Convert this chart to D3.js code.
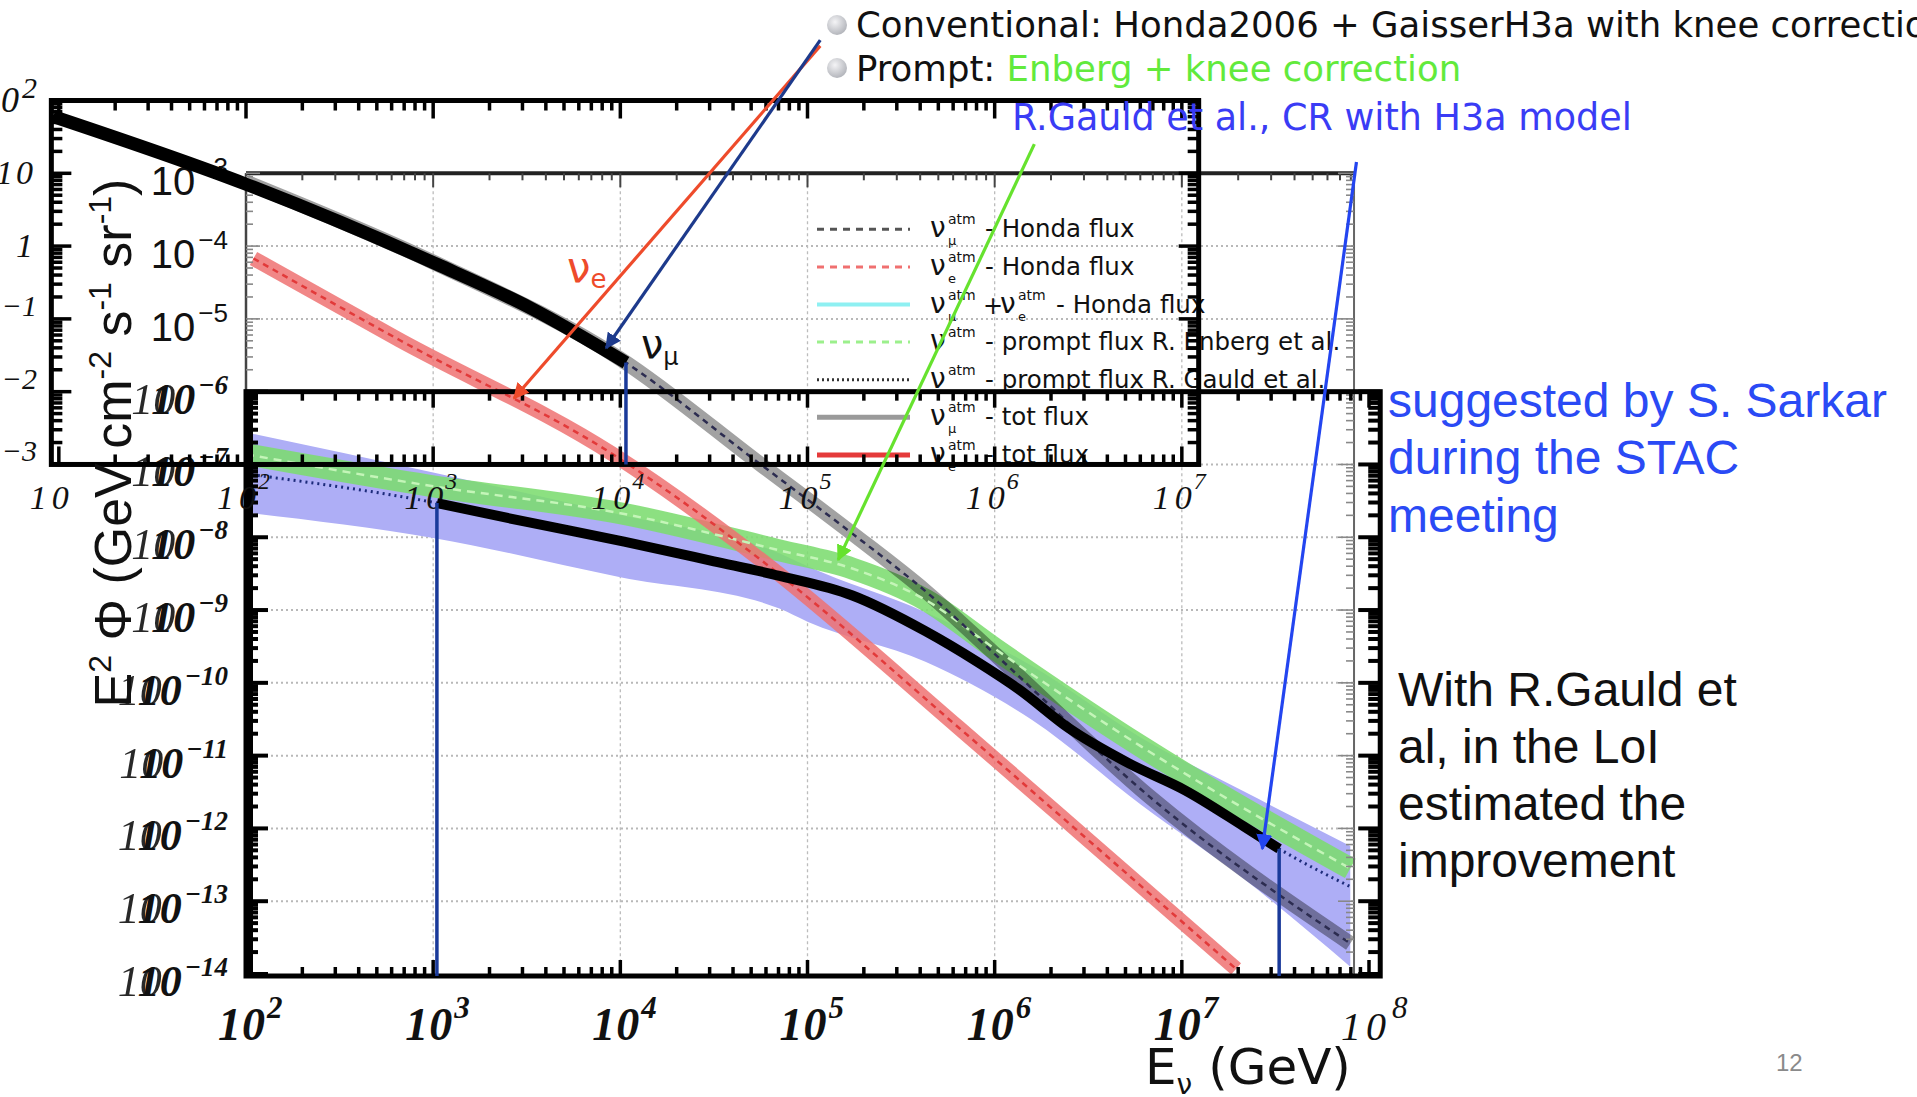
<!DOCTYPE html>
<html>
<head>
<meta charset="utf-8">
<script src="https://cdn.jsdelivr.net/npm/d3@7/dist/d3.min.js"></script>
<style>
  body { margin: 0; background: #fff; overflow: hidden; }
  svg { display: block; }
</style>
</head>
<body>
<div id="slide"></div>
<script>
// values: log10(E / GeV) and log10(E^2 Phi)

// R. Gauld et al. prompt flux (dotted everywhere, thick black between the two blue markers)
const gauldLogE   = [2.0, 3.02, 3.5, 4.02, 4.5, 4.85, 5.24, 5.63, 5.9, 6.13, 6.4, 6.72, 7.02, 7.33, 7.52, 7.9];
const gauldLogPhi = [-7.13, -7.53, -7.79, -8.06, -8.33, -8.53, -8.8, -9.29, -9.7, -10.09, -10.63, -11.11, -11.48, -11.97, -12.28, -12.8];
const gauldThick  = [3.0, 7.53];

// Gauld uncertainty band (centre, half width in decades)
const bandLogE = [2.0, 3.0, 4.0, 4.85, 5.0, 5.63, 6.2, 6.78, 7.33, 7.9];
const bandMid  = [-7.11, -7.56, -8.12, -8.6, -8.78, -9.37, -10.14, -11.21, -12.09, -13.07];
const bandHalf = [0.55, 0.45, 0.43, 0.38, 0.38, 0.34, 0.37, 0.46, 0.6, 0.83];

// Enberg prompt flux (green band)
const enbergLogE   = [2.0, 3.0, 4.0, 4.85, 5.24, 5.63, 6.0, 6.78, 7.9];
const enbergLogPhi = [-6.86, -7.3, -7.67, -8.18, -8.43, -8.86, -9.53, -10.87, -12.55];

// numu total flux (grey band)
const numuLogE   = [2.0, 3.0, 4.0, 4.75, 5.24, 5.63, 6.02, 6.83, 7.9];
const numuLogPhi = [-3.12, -4.22, -5.55, -7.0, -7.95, -8.74, -9.65, -11.57, -13.58];

// nue total flux (red band)
const nueLogE   = [2.04, 2.82, 3.96, 4.78, 5.81, 6.5, 7.29];
const nueLogPhi = [-4.17, -5.29, -6.86, -8.37, -10.62, -12.16, -13.93];

// older plot pasted over the top left corner (own y axis)
const oldLogE = [0.97, 2.0, 3.02, 3.52, 4.03];
const oldLogY = [1.78, 0.85, -0.25, -0.85, -1.6];

// tick labels
const xDecades    = [2, 3, 4, 5, 6, 7, 8];
const yDecades    = [-3, -4, -5, -6, -7, -8, -9, -10, -11, -12, -13, -14];
const oldXDecades = [1, 2, 3, 4, 5, 6, 7];
const oldYDecades = [2, 1, 0, -1, -2, -3];

// legend
const legendFlavour = ["μ", "e", "μ+e", "", "", "μ", "e"];
const legendText = ["- Honda flux", "- Honda flux", "- Honda flux", "- prompt flux R. Enberg et al.",
  "- prompt flux R. Gauld et al.", "- tot flux", "- tot flux"];

// annotation arrows, in plot coordinates (log10 E, log10 flux)
const arrowFromE   = [5.068, 5.068, 6.212, 7.933];
const arrowFromPhi = [-1.25, -1.17, -2.6, -2.845];
const arrowToE     = [3.432, 3.924, 5.164, 7.43];
const arrowToPhi   = [-6.09, -5.4, -8.31, -12.28];
const arrowColors  = ["#ee4b2b", "#1d3a8c", "#66e22e", "#2345f0"];

const W = 1917, H = 1097;
const svg = d3.select("#slide").append("svg")
  .attr("width", W).attr("height", H)
  .attr("viewBox", [0, 0, W, H])
  .style("font-family", "'Liberation Sans', Arial, sans-serif");

const p10 = (v) => Math.pow(10, v);
const x = d3.scaleLog().domain([1e2, 1e8]).range([246, 1369]);
const y = d3.scaleLog().domain([1e-3, 1e-14]).range([173.3, 974]);
const yOld = d3.scaleLog().domain([1e2, 1e-3]).range([y(1e-2), y(1e-7)]);

const pts = (a, b, c) => a.map((v, i) => (c ? [v, b[i], c[i]] : [v, b[i]]));
const line = d3.line().x((d) => x(p10(d[0]))).y((d) => y(p10(d[1]))).curve(d3.curveMonotoneX);
const lineOld = d3.line().x((d) => x(p10(d[0]))).y((d) => yOld(p10(d[1]))).curve(d3.curveMonotoneX);
const bandArea = d3.area()
  .x((d) => x(p10(d[0])))
  .y0((d) => y(p10(d[1] - d[2])))
  .y1((d) => y(p10(d[1] + d[2])))
  .curve(d3.curveMonotoneX);

// frame positions
const left = x(1e2);
const upperTop = y(1e-3);
const upperRight = x(p10(7.92));
const lowerTop = y(1e-6);
const lowerRight = x(p10(8.06));
const bottom = y(1e-14) + 2;
const oldLeft = x(p10(0.96)), oldRight = x(p10(7.09));
const oldTop = yOld(1e2), oldBottom = yOld(1e-3);

function logTicks(lo, hi) {
  const out = [];
  for (let e = Math.floor(lo); e <= Math.ceil(hi); e++) {
    for (let m = 1; m <= 9; m++) {
      const l = e + Math.log10(m);
      if (l >= lo - 1e-6 && l <= hi + 1e-6) out.push({ v: p10(l), major: m === 1 });
    }
  }
  return out;
}

// horizontal = ticks spread along x
function tickLines(vals, scale, horizontal, at, dir, maj, min, sw, color) {
  const g = svg.append("g").attr("stroke", color).attr("stroke-width", sw);
  g.selectAll("line").data(vals).join("line")
    .attr(horizontal ? "x1" : "y1", (d) => scale(d.v))
    .attr(horizontal ? "x2" : "y2", (d) => scale(d.v))
    .attr(horizontal ? "y1" : "x1", at)
    .attr(horizontal ? "y2" : "x2", (d) => at + dir * (d.major ? maj : min));
}

// ---- grid ----
const grid = svg.append("g");
grid.selectAll("line.h").data(yDecades.filter((d) => d < -3 && d > -14)).join("line")
  .attr("x1", left).attr("x2", upperRight)
  .attr("y1", (d) => y(p10(d))).attr("y2", (d) => y(p10(d)))
  .attr("stroke", "#b8b8b8").attr("stroke-width", 2).attr("stroke-dasharray", "2,3");
grid.selectAll("line.v").data(xDecades.filter((d) => d > 2 && d < 8)).join("line")
  .attr("x1", (d) => x(p10(d))).attr("x2", (d) => x(p10(d)))
  .attr("y1", upperTop).attr("y2", bottom)
  .attr("stroke", "#bcbcbc").attr("stroke-width", 1.3).attr("stroke-dasharray", "3,3");

// ---- bands ----
const bands = svg.append("g").style("isolation", "isolate");
bands.append("path").datum(pts(bandLogE, bandMid, bandHalf))
  .attr("d", bandArea).attr("fill", "#aeaef6");
bands.append("path").datum(pts(enbergLogE, enbergLogPhi))
  .attr("d", line).attr("fill", "none").attr("stroke", "#7cdc70").attr("stroke-width", 22)
  .attr("opacity", 0.88);
bands.append("path").datum(pts(numuLogE, numuLogPhi))
  .attr("d", line).attr("fill", "none").attr("stroke", "#a2a2a2").attr("stroke-width", 15)
  .style("mix-blend-mode", "multiply");
bands.append("path").datum(pts(nueLogE, nueLogPhi))
  .attr("d", line).attr("fill", "none").attr("stroke", "#ee7272").attr("stroke-width", 15)
  .attr("opacity", 0.85);

// dashed centre lines
svg.append("path").datum(pts(enbergLogE, enbergLogPhi)).attr("d", line).attr("fill", "none")
  .attr("stroke", "#c4f5b8").attr("stroke-width", 2.5).attr("stroke-dasharray", "8,6");
svg.append("path").datum(pts(numuLogE, numuLogPhi)).attr("d", line).attr("fill", "none")
  .attr("stroke", "#2c2c50").attr("stroke-width", 2.5).attr("stroke-dasharray", "6,5");
svg.append("path").datum(pts(nueLogE, nueLogPhi)).attr("d", line).attr("fill", "none")
  .attr("stroke", "#e23a3a").attr("stroke-width", 2.5).attr("stroke-dasharray", "6,5");
svg.append("path").datum(pts(gauldLogE, gauldLogPhi)).attr("d", line).attr("fill", "none")
  .attr("stroke", "#1c2a7a").attr("stroke-width", 3).attr("stroke-dasharray", "2,4");

// ---- legend ----
const legX0 = 817, legX1 = 910, legTx = 930, legY0 = 229.3, legDy = 37.6;
const legStyles = [
  { c: "#555", w: 3, d: "7,6" }, { c: "#f07070", w: 3, d: "7,6" }, { c: "#8ef0f2", w: 4, d: null },
  { c: "#9cf08c", w: 3, d: "7,6" }, { c: "#333", w: 3, d: "2,3" }, { c: "#9a9a9a", w: 5, d: null },
  { c: "#e53a3a", w: 5, d: null }
];
const leg = svg.append("g").style("font-family", "'DejaVu Sans', sans-serif").attr("fill", "#111");
legendText.forEach((t, i) => {
  const ry = legY0 + i * legDy;
  const s = legStyles[i];
  leg.append("line").attr("x1", legX0).attr("x2", legX1).attr("y1", ry).attr("y2", ry)
    .attr("stroke", s.c).attr("stroke-width", s.w).attr("stroke-dasharray", s.d);
  const nu = (x0, sub) => {
    leg.append("text").attr("x", x0).attr("y", ry + 8).attr("font-size", 28).text("ν");
    leg.append("text").attr("x", x0 + 18).attr("y", ry - 5).attr("font-size", 14).text("atm");
    if (sub) leg.append("text").attr("x", x0 + 18).attr("y", ry + 16).attr("font-size", 13).text(sub);
  };
  let tx = legTx + 55;
  if (legendFlavour[i] === "μ+e") {
    nu(legTx, "μ");
    leg.append("text").attr("x", legTx + 53).attr("y", ry + 9).attr("font-size", 24).text("+");
    nu(legTx + 70, "e");
    tx = legTx + 126;
  } else {
    nu(legTx, legendFlavour[i]);
  }
  leg.append("text").attr("x", tx).attr("y", ry + 8).attr("font-size", 24.5).text(t);
});

// ---- upper (pasted) frame ----
svg.append("line").attr("x1", left).attr("x2", upperRight).attr("y1", upperTop).attr("y2", upperTop)
  .attr("stroke", "#222").attr("stroke-width", 4);
svg.append("line").attr("x1", upperRight).attr("x2", upperRight).attr("y1", upperTop).attr("y2", bottom)
  .attr("stroke", "#666").attr("stroke-width", 2);
svg.append("line").attr("x1", left).attr("x2", left).attr("y1", upperTop).attr("y2", lowerTop)
  .attr("stroke", "#444").attr("stroke-width", 2.5);
tickLines(logTicks(2, 7.92), x, true, upperTop, 1, 14, 7, 2, "#444");
tickLines(logTicks(-6, -3), y, false, left, 1, 14, 7, 1.6, "#888");
tickLines(logTicks(-14, -3), y, false, upperRight, -1, 16, 8, 1.6, "#888");

// ---- lower frame (thick) ----
svg.append("rect").attr("x", left).attr("y", lowerTop)
  .attr("width", lowerRight - left).attr("height", bottom - lowerTop)
  .attr("fill", "none").attr("stroke", "#000").attr("stroke-width", 5);
svg.append("line").attr("x1", left + 4).attr("x2", left + 4).attr("y1", lowerTop).attr("y2", bottom)
  .attr("stroke", "#000").attr("stroke-width", 6);
tickLines(logTicks(2, 8.06), x, true, bottom, -1, 16, 9, 3.5, "#000");
tickLines(logTicks(2, 8.06), x, true, lowerTop, 1, 16, 9, 3.5, "#000");
tickLines(logTicks(-14, -6), y, false, left, 1, 22, 12, 4, "#000");
tickLines(logTicks(-14, -6), y, false, lowerRight, -1, 22, 12, 4, "#000");

// ---- main tick labels ----
const labels = svg.append("g");
function supLabel(g, xEnd, base, font, supFont, supText, ghost, supRise) {
  const s = g.append("text").attr("x", xEnd).attr("y", base - supRise)
    .attr("text-anchor", "end").attr("font-size", supFont).text(supText);
  const L = s.node().getComputedTextLength();
  if (ghost) {
    g.append("text").attr("x", xEnd - L - 23).attr("y", base).attr("text-anchor", "end")
      .attr("font-size", font).style("font-weight", "normal").attr("opacity", 0.9).text("10");
  }
  g.append("text").attr("x", xEnd - L - 3).attr("y", base)
    .attr("text-anchor", "end").attr("font-size", font).text("10");
}
yDecades.forEach((d) => {
  const ty = y(p10(d));
  const sans = d >= -5;
  const g = labels.append("g")
    .style("font-family", sans ? "'Liberation Sans', sans-serif" : "'Liberation Serif', serif")
    .style("font-style", sans ? "normal" : "italic")
    .style("font-weight", sans ? "normal" : "bold")
    .attr("fill", "#111");
  supLabel(g, 228, ty + 22, sans ? 40 : 44, sans ? 26 : 27, "−" + Math.abs(d), !sans, sans ? 19 : 20);
});
xDecades.forEach((d) => {
  const tx = x(p10(d)) - 28;
  const last = d === 8;
  const g = labels.append("g")
    .style("font-family", "'Liberation Serif', serif").style("font-style", "italic")
    .style("font-weight", last ? "normal" : "bold").attr("fill", "#111");
  const t = g.append("text").attr("x", tx).attr("y", 1040).attr("font-size", last ? 40 : 46)
    .attr("letter-spacing", last ? 5 : 1).text("10");
  const L = t.node().getComputedTextLength();
  g.append("text").attr("x", tx + L + 1).attr("y", 1018).attr("font-size", 31).text(d);
});

// ---- old plot labels ----
const oldLab = svg.append("g").style("font-family", "'Liberation Serif', serif")
  .style("font-style", "italic").attr("fill", "#111");
oldXDecades.forEach((d) => {
  const tx = x(p10(d)) - 29;
  const t = oldLab.append("text").attr("x", tx).attr("y", 509).attr("font-size", 34)
    .attr("letter-spacing", 5).text("10");
  const L = t.node().getComputedTextLength();
  if (d > 1) oldLab.append("text").attr("x", tx + L - 3).attr("y", 489).attr("font-size", 24).text(d);
});
oldYDecades.forEach((d) => {
  const ty = yOld(p10(d)) + 11;
  const base = d === 0 ? "1" : "10";
  if (d === 0 || d === 1) {
    oldLab.append("text").attr("x", 36).attr("y", ty).attr("text-anchor", "end")
      .attr("font-size", 34).attr("letter-spacing", 3).text(base);
  } else {
    const s = oldLab.append("text").attr("x", 37).attr("y", ty - 14).attr("text-anchor", "end")
      .attr("font-size", 30).text(d < 0 ? "−" + Math.abs(d) : d);
    const L = s.node().getComputedTextLength();
    oldLab.append("text").attr("x", 37 - L).attr("y", ty).attr("text-anchor", "end")
      .attr("font-size", 36).attr("letter-spacing", 3).text(base);
  }
});

// ---- old plot frame + curve ----
svg.append("rect").attr("x", oldLeft).attr("y", oldTop)
  .attr("width", oldRight - oldLeft).attr("height", oldBottom - oldTop)
  .attr("fill", "none").attr("stroke", "#000").attr("stroke-width", 5);
tickLines(logTicks(0.96, 7.09), x, true, oldTop, 1, 18, 10, 3.5, "#000");
tickLines(logTicks(0.96, 7.09), x, true, oldBottom, -1, 18, 10, 3.5, "#000");
tickLines(logTicks(-3, 2), yOld, false, oldLeft, 1, 20, 11, 3.5, "#000");
tickLines(logTicks(-3, 2), yOld, false, oldRight, -1, 20, 11, 3.5, "#000");

const oldPts = pts(oldLogE, oldLogY);
svg.append("path").datum(oldPts).attr("d", lineOld).attr("fill", "none")
  .attr("stroke", "#000").attr("stroke-width", 13);
const oldEnd = oldPts[oldPts.length - 1];
svg.append("line")
  .attr("x1", x(p10(oldEnd[0]))).attr("x2", x(p10(oldEnd[0])))
  .attr("y1", yOld(p10(oldEnd[1]))).attr("y2", oldBottom)
  .attr("stroke", "#1a3a9a").attr("stroke-width", 3.5);

// ---- Gauld thick curve + blue markers ----
const gPts = pts(gauldLogE, gauldLogPhi).filter((d) => d[0] >= gauldThick[0] && d[0] <= gauldThick[1]);
svg.append("path").datum(gPts).attr("d", line).attr("fill", "none")
  .attr("stroke", "#000").attr("stroke-width", 10);
[gPts[0], gPts[gPts.length - 1]].forEach((d) => {
  svg.append("line").attr("x1", x(p10(d[0]))).attr("x2", x(p10(d[0])))
    .attr("y1", y(p10(d[1]))).attr("y2", bottom)
    .attr("stroke", "#1a3a9a").attr("stroke-width", 3.5);
});

// ---- axis titles ----
const yTitle = svg.append("text")
  .attr("transform", "translate(131,443) rotate(-90)")
  .attr("text-anchor", "middle").attr("font-size", 52).attr("fill", "#111");
yTitle.append("tspan").text("E");
yTitle.append("tspan").attr("font-size", 32).attr("dy", -20).text("2");
yTitle.append("tspan").attr("dy", 20).text(" Φ (GeV cm");
yTitle.append("tspan").attr("font-size", 32).attr("dy", -20).text("-2");
yTitle.append("tspan").attr("dy", 20).text(" s");
yTitle.append("tspan").attr("font-size", 32).attr("dy", -20).text("-1");
yTitle.append("tspan").attr("dy", 20).text(" sr");
yTitle.append("tspan").attr("font-size", 32).attr("dy", -20).text("-1");
yTitle.append("tspan").attr("dy", 20).text(")");

const xTitle = svg.append("text").attr("x", 1145).attr("y", 1084)
  .attr("font-size", 50).attr("fill", "#111").style("font-family", "'DejaVu Sans', sans-serif");
xTitle.append("tspan").text("E");
xTitle.append("tspan").attr("font-size", 28).attr("dy", 10).text("ν");
xTitle.append("tspan").attr("dy", -10).text(" (GeV)");

// ---- slide texts ----
const grad = svg.append("defs").append("radialGradient").attr("id", "bullet")
  .attr("cx", "40%").attr("cy", "35%").attr("r", "65%");
grad.append("stop").attr("offset", "0%").attr("stop-color", "#f4f4f6");
grad.append("stop").attr("offset", "100%").attr("stop-color", "#b4b6bc");
[25, 68].forEach((cy) => {
  svg.append("circle").attr("cx", 837).attr("cy", cy).attr("r", 10).attr("fill", "url(#bullet)");
});

const headText = svg.append("g").style("font-family", "'DejaVu Sans', sans-serif");
headText.append("text").attr("x", 856).attr("y", 37).attr("font-size", 35.5).attr("fill", "#111")
  .text("Conventional: Honda2006 + GaisserH3a with knee correction");
const pr = headText.append("text").attr("x", 856).attr("y", 81).attr("font-size", 35.5);
pr.append("tspan").attr("fill", "#111").text("Prompt: ");
pr.append("tspan").attr("fill", "#62ea3c").text("Enberg + knee correction");
headText.append("text").attr("x", 1012).attr("y", 130).attr("font-size", 36.5).attr("fill", "#3a3cf5")
  .text("R.Gauld et al., CR with H3a model");

const side = svg.append("g").attr("font-size", 48);
["suggested by S. Sarkar", "during the STAC", "meeting"].forEach((t, i) => {
  side.append("text").attr("x", 1388).attr("y", 416.7 + i * 57.4).attr("fill", "#2a4af5").text(t);
});
["With R.Gauld et", "al, in the LoI", "estimated the", "improvement"].forEach((t, i) => {
  side.append("text").attr("x", 1398).attr("y", 706 + i * 57).attr("fill", "#111").text(t);
});

svg.append("text").attr("x", 1776).attr("y", 1071).attr("font-size", 24).attr("fill", "#8a8a8a").text("12");

// ---- arrows ----
const defs = svg.append("defs");
arrowColors.forEach((c, i) => {
  defs.append("marker").attr("id", "ah" + i).attr("viewBox", "0 0 10 10")
    .attr("refX", 9).attr("refY", 5).attr("markerWidth", 5).attr("markerHeight", 5)
    .attr("orient", "auto").append("path").attr("d", "M0,0L10,5L0,10z").attr("fill", c);
});
arrowColors.forEach((c, i) => {
  svg.append("line")
    .attr("x1", x(p10(arrowFromE[i]))).attr("y1", y(p10(arrowFromPhi[i])))
    .attr("x2", x(p10(arrowToE[i]))).attr("y2", y(p10(arrowToPhi[i])))
    .attr("stroke", c).attr("stroke-width", 3.2).attr("marker-end", "url(#ah" + i + ")");
});

// flavour tags next to the arrows
const tags = svg.append("g").style("font-family", "'DejaVu Sans', sans-serif");
const te = tags.append("text").attr("x", 567).attr("y", 282).attr("font-size", 42).attr("fill", "#ee4b2b");
te.append("tspan").text("ν");
te.append("tspan").attr("font-size", 26).attr("dy", 6).text("e");
const tm = tags.append("text").attr("x", 641).attr("y", 358).attr("font-size", 40).attr("fill", "#111");
tm.append("tspan").text("ν");
tm.append("tspan").attr("font-size", 24).attr("dy", 7).text("μ");
</script>
</body>
</html>
